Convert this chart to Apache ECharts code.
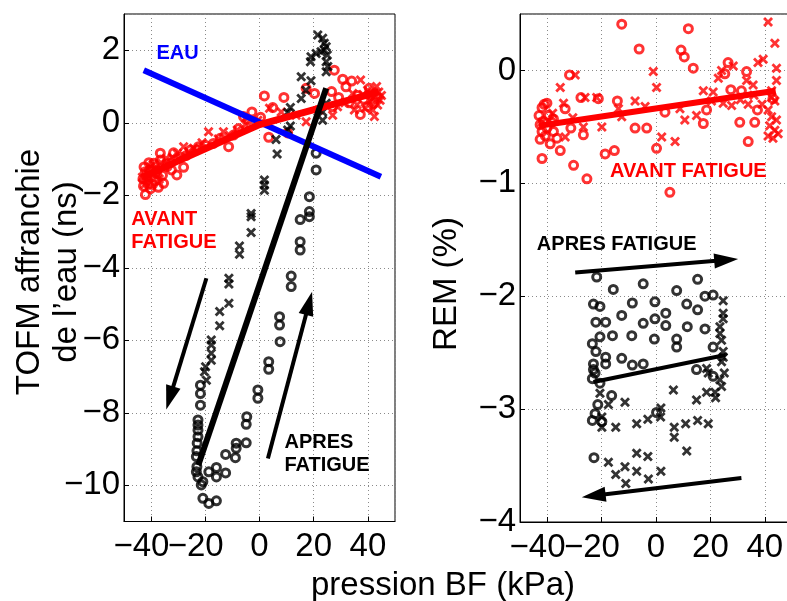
<!DOCTYPE html>
<html><head><meta charset="utf-8">
<script src="https://cdn.jsdelivr.net/npm/echarts@6/dist/echarts.min.js"></script>
<style>html,body{margin:0;padding:0;background:#fff}#c{width:787px;height:601px}</style>
</head><body><div id="c"></div>
<script>
// ---------- data (kPa, ns / %) ----------
const eauLine = [[-42.7,1.45],[44.8,-1.49]];

const leftRedCircles = [[-42.1,-1.98],[-41.5,-1.58],[-42.1,-1.35],[-41.8,-1.47],[-42.6,-1.22],[-41.0,-1.70],[-40.5,-1.30],[-39.7,-1.49],[-39.0,-1.12],[-38.5,-1.60],[-37.9,-1.40],[-37.3,-1.78],[-36.6,-1.03],[-36.6,-0.84],[-35.4,-1.67],[-34.1,-1.21],[-33.0,-1.10],[-31.7,-0.83],[-30.5,-1.44],[-28.0,-1.23],[-27.0,-0.90],[-25.5,-0.75],[-23.1,-0.75],[-22.5,-0.66],[-20.0,-0.62],[-17.0,-0.57],[-14.5,-0.43],[-11.4,-0.66],[-9.6,-0.34],[-7.7,-0.16],[-5.9,0.17],[-2.8,0.30],[-4.2,0.08],[0.4,0.15],[1.8,0.74],[3.4,-0.40],[4.9,0.42],[9.0,0.70],[10.4,-0.28],[17.2,0.95],[20.3,0.81],[26.6,0.86],[27.0,0.44],[27.6,1.45],[30.7,1.20],[31.9,0.99],[34.0,1.15],[37.2,0.23],[38.5,0.65],[40.0,0.45],[41.2,0.80],[42.2,0.55],[43.2,0.70],[40.5,0.95],[36.2,0.75],[33.0,0.55],[29.2,0.70],[-40.2,-1.82],[-38.2,-1.35],[-43.0,-1.55],[-42.8,-1.75],[-40.8,-1.10],[-39.5,-1.70],[-35.8,-1.45],[-32.5,-1.30],[-29.0,-0.95]];
const leftRedCrosses = [[-43.2,-1.50],[-42.4,-1.70],[-41.3,-1.40],[-40.2,-1.22],[-38.3,-1.28],[-36.3,-1.10],[-34.4,-0.98],[-32.2,-0.95],[-30.3,-0.85],[-28.0,-0.66],[-26.2,-0.80],[-24.3,-0.70],[-21.2,-0.55],[-18.8,-0.25],[-15.2,-0.45],[-13.3,-0.25],[-11.0,-0.35],[-8.2,-0.20],[-5.2,-0.05],[-0.6,0.07],[3.7,0.40],[8.0,0.30],[13.5,0.21],[17.2,0.03],[22.0,0.35],[27.0,0.21],[28.8,0.44],[34.4,0.81],[37.3,1.18],[39.9,0.90],[42.4,0.72],[43.6,0.49],[42.4,0.17],[44.0,0.85],[43.2,1.00],[41.0,0.60],[39.0,0.40],[36.0,0.50],[44.5,0.62],[45.0,0.75],[41.8,0.35],[38.2,0.78],[35.0,0.35],[31.5,0.55],[-37.0,-1.55],[-39.2,-1.15]];
const leftRedFit = [[-43,-1.5],[-30,-1.05],[0,-0.05],[44,0.85]];

const leftBlackCircles = [[7.6,-6.04],[3.4,-6.59],[3.4,-6.80],[-0.6,-7.37],[-0.6,-7.60],[-4.7,-8.11],[-4.9,-8.32],[-4.9,-8.83],[-8.6,-8.84],[-8.6,-8.98],[-8.9,-9.24],[-12.5,-9.15],[-12.5,-9.66],[-15.9,-9.51],[-15.9,-9.77],[-18.7,-9.63],[-20.9,-10.36],[-18.7,-10.50],[-15.9,-10.43],[-21.5,-9.99],[-22.7,-9.77],[-23.3,-9.63],[-23.1,-9.49],[-23.3,-9.21],[-23.1,-9.05],[-23.0,-8.84],[-22.7,-8.66],[-22.7,-8.48],[-22.7,-8.34],[-22.7,-8.20],[-21.8,-7.79],[-21.8,-7.47],[-21.8,-7.24],[-20.9,-9.90],[20.9,-1.30],[18.4,-2.04],[18.4,-2.45],[18.4,-2.59],[15.0,-2.67],[15.0,-3.28],[15.0,-3.51],[11.7,-4.23],[11.7,-4.52],[7.4,-5.35],[7.4,-5.58],[20.9,-0.84]];
const leftBlackCrosses = [[-17.8,-5.99],[-17.8,-6.13],[-17.8,-6.36],[-17.8,-6.55],[-19.9,-6.73],[-20.3,-6.87],[-19.6,-7.10],[1.8,-1.58],[1.8,-1.72],[1.8,-1.86],[-3.1,-2.50],[-3.1,-2.59],[-3.1,-3.03],[-7.4,-3.40],[-7.4,-3.63],[-11.3,-4.29],[-11.3,-4.45],[-11.3,-4.98],[-14.7,-5.21],[-14.7,-5.60],[21.5,2.42],[23.3,2.33],[23.9,2.19],[24.6,2.10],[23.9,2.01],[22.7,1.96],[20.9,1.91],[19.0,1.82],[25.0,1.87],[24.6,1.68],[18.8,1.68],[25.2,1.55],[24.6,1.41],[15.4,1.27],[19.0,1.16],[17.1,0.90],[15.4,0.67],[11.4,0.42],[10.4,0.28],[23.3,0.30],[23.3,0.07],[24.6,0.54],[11.4,-0.09],[10.4,-0.20],[6.1,-0.46],[6.5,-0.86]];
const leftBlackFit = [[-22.6,-9.45],[24.6,0.95]];

const rightRedCircles = [[-12.6,0.41],[-6.2,0.19],[11.9,0.37],[9.2,0.18],[10.4,0.12],[13.7,0.02],[-31.8,-0.04],[-41.1,-0.30],[-40.1,-0.29],[-41.9,-0.33],[-27.6,-0.24],[-21.2,-0.25],[-14.2,-0.27],[-33.4,-0.34],[-41.4,-0.45],[-42.6,-0.48],[-40.1,-0.51],[-38.3,-0.46],[-37.7,-0.43],[-41.9,-0.54],[-40.7,-0.58],[-42.6,-0.61],[-37.7,-0.54],[-36.4,-0.60],[-38.9,-0.65],[-35.2,-0.71],[-41.9,-0.78],[-30.3,-0.84],[-25.4,-0.96],[-26.7,-0.57],[-31.3,-0.51],[-18.7,-0.74],[-15.3,-0.71],[-7.7,-0.51],[-3.4,-0.51],[0.2,-0.69],[5.1,-1.08],[3.3,-0.37],[17.4,-0.47],[18.6,-0.35],[26.5,0.07],[25.3,-0.03],[27.5,-0.17],[30.8,-0.46],[33.9,-0.63],[33.3,-0.01],[31.4,-0.18],[36.3,-0.46],[37.3,-0.35],[43.0,-0.25],[-43.0,-0.40],[-39.5,-0.40]];
const rightRedCrosses = [[-35.2,-0.15],[-29.7,-0.04],[-34.0,-0.29],[-26.1,-0.24],[-21.8,-0.24],[-26.7,-0.50],[-19.9,-0.50],[-33.4,-0.59],[-7.7,-0.27],[-4.0,-0.32],[-1.0,-0.01],[0.2,-0.15],[2.1,-0.59],[7.0,-0.63],[8.8,-0.34],[10.6,-0.44],[14.9,-0.40],[17.4,-0.18],[21.0,-0.19],[20.4,-0.27],[24.1,0.00],[22.9,-0.07],[24.7,-0.29],[28.4,0.04],[27.8,-0.31],[33.3,-0.09],[35.7,-0.13],[37.5,0.07],[39.4,0.10],[41.2,0.43],[43.7,0.24],[44.3,0.02],[44.3,-0.09],[42.5,-0.18],[42.5,-0.24],[43.7,-0.27],[41.2,-0.35],[42.5,-0.41],[44.3,-0.44],[41.8,-0.49],[43.7,-0.53],[41.2,-0.58],[43.0,-0.60],[44.9,-0.56],[-41.9,-0.46],[-13.8,-0.34],[-12.6,-0.41],[-38.0,-0.38],[-30.6,-0.42],[31.0,-0.26],[36.0,-0.22],[39.0,-0.30],[33.9,-0.30]];
const rightRedFit = [[-43,-0.49],[44,-0.18]];

const rightBlackCircles = [[-21.8,-1.83],[-15.7,-1.94],[-4.7,-1.89],[7.6,-1.95],[15.3,-1.85],[18.0,-2.00],[21.0,-1.99],[-23.0,-2.07],[-20.6,-2.09],[-8.7,-2.06],[-0.4,-2.05],[11.3,-2.07],[15.3,-2.12],[-12.6,-2.17],[3.6,-2.15],[-22.1,-2.23],[-18.5,-2.23],[-4.7,-2.24],[-0.4,-2.20],[3.6,-2.26],[11.5,-2.27],[18.0,-2.29],[-20.6,-2.36],[-16.0,-2.35],[-8.9,-2.35],[-0.6,-2.38],[7.6,-2.38],[7.6,-2.45],[-23.4,-2.42],[-22.1,-2.49],[21.0,-2.45],[-18.5,-2.54],[-18.5,-2.60],[-12.6,-2.55],[-8.7,-2.61],[-4.7,-2.60],[-23.0,-2.60],[-23.0,-2.65],[-22.4,-2.68],[-23.4,-2.73],[14.9,-2.65],[21.0,-2.71],[-20.6,-2.77],[-16.3,-2.88],[-21.4,-2.96],[-22.4,-3.04],[-23.4,-3.10],[-19.9,-3.11],[-22.8,-3.43],[0.2,-3.03]];
const rightBlackCrosses = [[24.7,-2.04],[24.7,-2.15],[24.7,-2.20],[23.5,-2.27],[23.5,-2.33],[24.1,-2.39],[24.7,-2.49],[24.7,-2.54],[24.1,-2.58],[25.1,-2.68],[23.5,-2.74],[24.1,-2.80],[21.7,-2.85],[21.9,-2.90],[19.2,-2.68],[18.6,-2.64],[18.6,-2.85],[14.9,-2.92],[6.4,-2.83],[-20.6,-2.86],[-17.5,-2.96],[-11.4,-2.94],[-19.9,-3.07],[-19.9,-3.16],[-14.8,-3.16],[-7.1,-3.13],[-3.0,-3.09],[1.8,-2.99],[1.7,-3.07],[6.7,-3.16],[6.7,-3.25],[10.9,-3.13],[15.3,-3.10],[19.2,-3.13],[11.3,-3.37],[-7.1,-3.39],[-3.0,-3.42],[-17.5,-3.47],[-11.4,-3.51],[-14.8,-3.58],[-7.1,-3.55],[1.8,-3.55],[-11.1,-3.66],[-2.8,-3.62]];
const rightBlackFit = [[-23.0,-2.76],[25.5,-2.52]];

// annotation arrows [x1, y1, x2(tip), y2(tip)]
const leftArrows = [[-19.6,-4.29,-34.4,-7.91],[3.1,-9.26,19.4,-4.66]];
const rightArrows = [[-29.7,-1.79,30.2,-1.67],[31.4,-3.61,-27.3,-3.78]];

// annotation texts
const leftNoteText = ['EAU','AVANT\nFATIGUE','APRES\nFATIGUE'];
const leftNotePos = [[-38.0,1.9],[-47.3,-2.98],[9.2,-9.14]];
const leftNoteColor = ['#0000ff','#ff0000','#000000'];
const rightNoteText = ['AVANT FATIGUE','APRES FATIGUE'];
const rightNotePos = [[-16.9,-0.894],[-43.8,-1.54]];
const rightNoteColor = ['#ff0000','#000000'];

const xName = 'pression BF (kPa)';
const yNameLeft = 'TOFM affranchie\nde l\u2019eau (ns)';
const yNameRight = 'REM (%)';

// ---------- chart ----------
const FONT = '"Liberation Sans", Arial, Helvetica, sans-serif';
const CROSS = 'path://M0,2L2,0L5,3L8,0L10,2L7,5L10,8L8,10L5,7L2,10L0,8L3,5Z';
const MINUS = '\u2212';

function fmtX(v){ return v < 0 ? '{a|' + MINUS + Math.abs(v) + '}{b|' + MINUS + '}' : '{a|' + v + '}'; }
function fmtY(v){ return v < 0 ? MINUS + Math.abs(v) : String(v); }

function xAxisCfg(gi){
  return {gridIndex:gi, type:'value', min:-50, max:50, splitNumber:5,
    axisLine:{show:true, onZero:false, lineStyle:{color:'#000', width:1}},
    axisTick:{show:true, inside:true, length:5, lineStyle:{color:'#000'}},
    axisLabel:{show:true, showMinLabel:false, showMaxLabel:false, margin:9, formatter:fmtX,
      rich:{a:{fontSize:33, fontFamily:FONT, color:'#000'}, b:{fontSize:33, fontFamily:FONT, color:'rgba(0,0,0,0)'}}},
    splitLine:{show:true, lineStyle:{color:'#8a8a8a', type:[1,3], width:1}}};
}
function yAxisCfg(gi, min, max, extra){
  return Object.assign({gridIndex:gi, type:'value', min:min, max:max,
    axisLine:{show:true, onZero:false, lineStyle:{color:'#000', width:1}},
    axisTick:{show:true, inside:true, length:5, lineStyle:{color:'#000'}},
    axisLabel:{show:true, margin:4, formatter:fmtY, fontSize:33, fontFamily:FONT, color:'#000'},
    splitLine:{show:true, lineStyle:{color:'#8a8a8a', type:[1,3], width:1}}}, extra);
}

function circles(data, color, xi){
  return {type:'scatter', xAxisIndex:xi, yAxisIndex:xi, data:data, symbol:'circle', symbolSize:8,
    itemStyle:{color:'rgba(0,0,0,0)', borderColor:color, borderWidth:3}, silent:true};
}
function crosses(data, color, xi){
  return {type:'scatter', xAxisIndex:xi, yAxisIndex:xi, data:data, symbol:CROSS, symbolSize:10,
    itemStyle:{color:color}, silent:true};
}
function fit(data, color, w, xi){
  return {type:'line', xAxisIndex:xi, yAxisIndex:xi, data:data, symbol:'none', silent:true,
    lineStyle:{color:color, width:w, cap:'butt'}};
}
function arrows(data, xi){
  return {type:'custom', xAxisIndex:xi, yAxisIndex:xi, data:data, silent:true, clip:false,
    renderItem:function(params, api){
      const p1 = api.coord([api.value(0), api.value(1)]);
      const p2 = api.coord([api.value(2), api.value(3)]);
      const dx = p2[0]-p1[0], dy = p2[1]-p1[1];
      const len = Math.hypot(dx, dy), ux = dx/len, uy = dy/len;
      const hl = 24, hw = 7.5;
      const bx = p2[0]-ux*hl, by = p2[1]-uy*hl;
      return {type:'group', children:[
        {type:'line', shape:{x1:p1[0], y1:p1[1], x2:bx+ux*2, y2:by+uy*2}, style:{stroke:'#000', lineWidth:4}},
        {type:'polygon', shape:{points:[[p2[0],p2[1]],[bx-uy*hw, by+ux*hw],[bx+uy*hw, by-ux*hw]]}, style:{fill:'#000'}}
      ]};
    }};
}
function notes(pos, texts, colors, xi){
  return {type:'custom', xAxisIndex:xi, yAxisIndex:xi, data:pos, silent:true, clip:false,
    renderItem:function(params, api){
      const p = api.coord([api.value(0), api.value(1)]);
      return {type:'text', x:p[0], y:p[1], style:{text:texts[params.dataIndex], fill:colors[params.dataIndex],
        font:'bold 20px ' + FONT, align:'left', verticalAlign:'middle', lineHeight:23.5}};
    }};
}

const chart = echarts.init(document.getElementById('c'), null, {renderer:'canvas'});
chart.setOption({
  animation:false,
  backgroundColor:'#fff',
  grid:[
    {left:124, top:14, width:271, height:507.5, show:true, borderColor:'#000', borderWidth:1, containLabel:false, outerBoundsMode:'none'},
    {left:520, top:14, width:272, height:508, show:true, borderColor:'#000', borderWidth:1, containLabel:false, outerBoundsMode:'none'}
  ],
  xAxis:[xAxisCfg(0), xAxisCfg(1)],
  yAxis:[
    yAxisCfg(0, -11, 3, {splitNumber:7, axisLabel:{show:true, margin:4, formatter:fmtY, fontSize:33, fontFamily:FONT, color:'#000', showMinLabel:false, showMaxLabel:false}}),
    yAxisCfg(1, -4, 0.5, {interval:1, axisLabel:{show:true, margin:4, formatter:fmtY, fontSize:33, fontFamily:FONT, color:'#000', showMinLabel:true, showMaxLabel:false}})
  ],
  graphic:[
    {type:'text', x:48.5, y:272, rotation:Math.PI/2, style:{text:yNameLeft, font:'33px ' + FONT, fill:'#000', align:'center', verticalAlign:'middle', lineHeight:37}},
    {type:'text', x:447, y:284, rotation:Math.PI/2, style:{text:yNameRight, font:'33px ' + FONT, fill:'#000', align:'center', verticalAlign:'middle'}},
    {type:'text', x:443, y:586, style:{text:xName, font:'33px ' + FONT, fill:'#000', align:'center', verticalAlign:'middle'}}
  ],
  series:[
    fit(eauLine, '#0000ff', 6, 0),
    circles(leftRedCircles, '#ff0000', 0),
    crosses(leftRedCrosses, '#ff0000', 0),
    fit(leftRedFit, '#ff0000', 7, 0),
    circles(leftBlackCircles, '#000000', 0),
    crosses(leftBlackCrosses, '#000000', 0),
    fit(leftBlackFit, '#000000', 6, 0),
    arrows(leftArrows, 0),
    notes(leftNotePos, leftNoteText, leftNoteColor, 0),
    circles(rightRedCircles, '#ff0000', 1),
    crosses(rightRedCrosses, '#ff0000', 1),
    fit(rightRedFit, '#ff0000', 6, 1),
    circles(rightBlackCircles, '#000000', 1),
    crosses(rightBlackCrosses, '#000000', 1),
    fit(rightBlackFit, '#000000', 4, 1),
    arrows(rightArrows, 1),
    notes(rightNotePos, rightNoteText, rightNoteColor, 1)
  ]
});
</script>
</body></html>
